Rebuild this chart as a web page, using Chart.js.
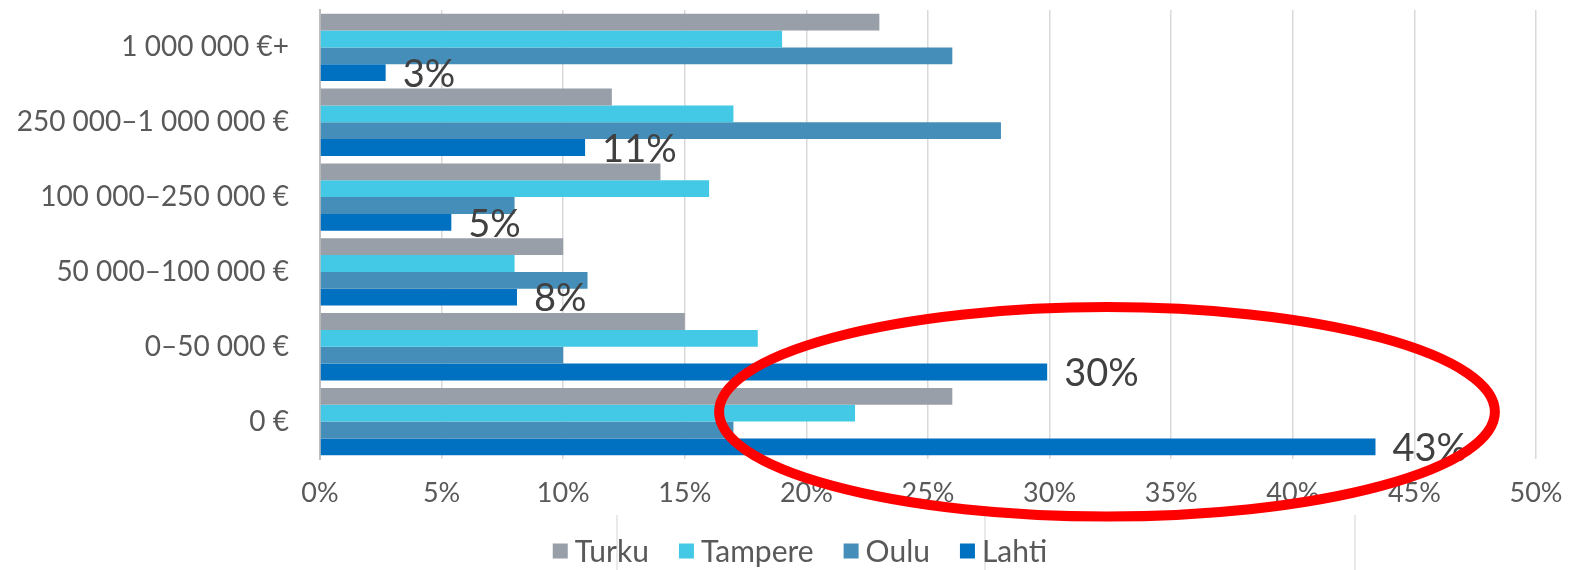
<!DOCTYPE html>
<html>
<head>
<meta charset="utf-8">
<script src="https://cdn.jsdelivr.net/npm/chart.js@4"></script>
<style>
  html, body { margin: 0; padding: 0; background: #fff; }
  #wrap { position: relative; width: 1570px; height: 570px; }
</style>
</head>
<body>
<div id="wrap"><canvas id="revenueChart"></canvas></div>
<script>
const categories = ['1 000 000 €+', '250 000–1 000 000 €', '100 000–250 000 €', '50 000–100 000 €', '0–50 000 €', '0 €'];
const turku = [23, 12, 14, 10, 15, 26];
const tampere = [19, 17, 16, 8, 18, 22];
const oulu = [26, 28, 8, 11, 10, 17];
const lahti = [2.7, 10.9, 5.4, 8.1, 29.9, 43.4];
const xTicks = [0, 5, 10, 15, 20, 25, 30, 35, 40, 45, 50];

const FONT = 'Lato, "Open Sans", sans-serif';

// value labels next to the Lahti bars
const lahtiLabels = {
    id: 'lahtiLabels',
    afterDatasetsDraw(chart) {
        const ctx = chart.ctx;
        const meta = chart.getDatasetMeta(3);
        ctx.save();
        ctx.font = '38px ' + FONT;
        ctx.fillStyle = '#404040';
        ctx.textAlign = 'left';
        ctx.textBaseline = 'middle';
        meta.data.forEach((bar, i) => {
            ctx.fillText(Math.round(lahti[i]) + '%', bar.x + 17, bar.y + 2);
        });
        ctx.restore();
    }
};

// red highlight ring around the 0-50k / 0 € Lahti values (in scale units)
const highlightRing = {
    id: 'highlightRing',
    afterDraw(chart) {
        const { x, y } = chart.scales;
        const cx = x.getPixelForValue(32.36);
        const rx = x.getPixelForValue(32.36 + 15.95) - cx;
        const cy = y.getPixelForValue(4.87);
        const ry = y.getPixelForValue(4.87 + 1.4) - cy;
        const ctx = chart.ctx;
        ctx.save();
        ctx.strokeStyle = '#ff0000';
        ctx.lineWidth = 10;
        ctx.beginPath();
        ctx.ellipse(cx, cy, rx, ry, 0, 0, Math.PI * 2);
        ctx.stroke();
        ctx.restore();
    }
};

// faint slide guide lines that show through under the legend
const guideLines = {
    id: 'guideLines',
    beforeDraw(chart) {
        const ctx = chart.ctx;
        ctx.save();
        ctx.strokeStyle = '#e3e3e3';
        ctx.lineWidth = 1.5;
        [617, 985, 1355].forEach(gx => {
            ctx.beginPath();
            ctx.moveTo(gx, 515);
            ctx.lineTo(gx, 570);
            ctx.stroke();
        });
        ctx.restore();
    }
};

// bottom legend, office style: small square, tight text
const bottomLegend = {
    id: 'bottomLegend',
    afterDraw(chart) {
        const ctx = chart.ctx;
        const box = 15, gap = 7, itemGap = 30;
        const yMid = chart.height - 19;
        ctx.save();
        ctx.font = '30px ' + FONT;
        ctx.textBaseline = 'middle';
        const items = chart.data.datasets.map(ds => ({
            text: ds.label,
            color: ds.backgroundColor,
            w: box + gap + ctx.measureText(ds.label).width
        }));
        const total = items.reduce((s, it) => s + it.w, 0) + itemGap * (items.length - 1);
        let x = chart.width / 2 + 15 - total / 2;
        items.forEach(it => {
            ctx.fillStyle = it.color;
            ctx.fillRect(x, yMid - box / 2, box, box);
            ctx.fillStyle = '#595959';
            ctx.fillText(it.text, x + box + gap, yMid + 1);
            x += it.w + itemGap;
        });
        ctx.restore();
    }
};

const ctx = document.getElementById('revenueChart').getContext('2d');
const chart = new Chart(ctx, {
    type: 'bar',
    data: {
        labels: categories,
        datasets: [
            { label: 'Turku', data: turku, backgroundColor: '#989fa8' },
            { label: 'Tampere', data: tampere, backgroundColor: '#43c9e6' },
            { label: 'Oulu', data: oulu, backgroundColor: '#458eb9' },
            { label: 'Lahti', data: lahti, backgroundColor: '#0070c0' }
        ]
    },
    options: {
        indexAxis: 'y',
        responsive: true,
        maintainAspectRatio: false,
        animation: false,
        datasets: {
            bar: {
                categoryPercentage: 0.9,
                barPercentage: 1.0,
                borderWidth: 0
            }
        },
        layout: {
            padding: { top: 10, right: 34, left: 0, bottom: 58 }
        },
        plugins: {
            legend: { display: false },
            tooltip: { enabled: false }
        },
        scales: {
            x: {
                min: 0,
                max: 50,
                afterBuildTicks(scale) {
                    scale.ticks = xTicks.map(v => ({ value: v }));
                },
                afterFit(scale) {
                    scale.height = 53;
                    scale.paddingLeft = 0;
                    scale.paddingRight = 0;
                },
                ticks: {
                    color: '#595959',
                    font: { family: FONT, size: 27 },
                    padding: 18,
                    callback: v => v + '%'
                },
                grid: {
                    color: '#d9d9d9',
                    lineWidth: 1.5,
                    drawTicks: false
                },
                border: { display: false }
            },
            y: {
                afterFit(scale) {
                    scale.width = 320;
                    scale.paddingTop = 0;
                    scale.paddingBottom = 0;
                },
                ticks: {
                    color: '#595959',
                    font: { family: FONT, size: 28 },
                    padding: 31
                },
                grid: { display: false, drawTicks: false },
                border: { display: true, color: '#bfbfbf', width: 2 }
            }
        }
    },
    plugins: [guideLines, lahtiLabels, highlightRing, bottomLegend]
});
</script>
</body>
</html>
